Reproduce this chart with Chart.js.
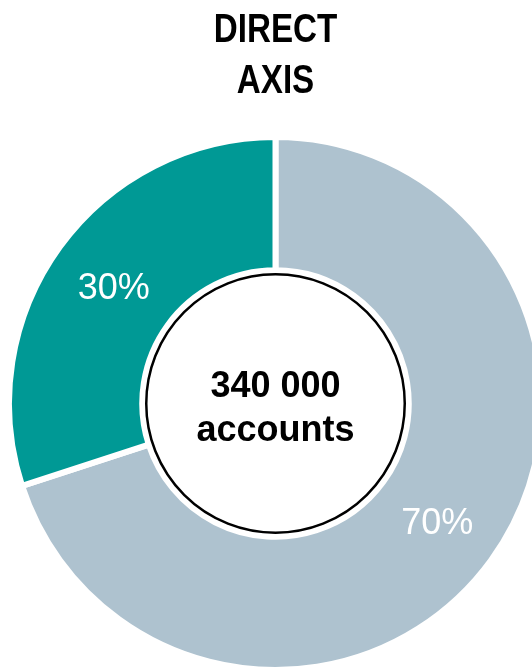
<!DOCTYPE html>
<html><head><meta charset="utf-8">
<script src="https://cdn.jsdelivr.net/npm/chart.js@4.4.0/dist/chart.umd.min.js"></script>
<style>
html,body{margin:0;padding:0;background:#fff;overflow:hidden;width:532px;height:669px;}
#wrap{position:absolute;left:0;top:0;width:551px;height:673px;}
</style></head><body>
<div id="wrap"><canvas id="c"></canvas></div>
<script>
const categories = ['Other', 'Direct Axis'];
const shares = [70, 30];
const sliceColors = ['#AEC2CF', '#009995'];
const sliceLabels = shares.map(v => v + '%');
const titleLines = ['DIRECT', 'AXIS'];
const centerLines = ['340 000', 'accounts'];

const FONT = '"Liberation Sans", Arial, sans-serif';

const decorPlugin = {
  id: 'decorPlugin',
  afterDatasetsDraw(chart) {
    const meta = chart.getDatasetMeta(0);
    const ctx = chart.ctx;
    const a0 = meta.data[0];
    const cx = a0.x, cy = a0.y;
    const inner = a0.innerRadius;
    ctx.save();
    // percent labels
    const lfs = 36;
    ctx.fillStyle = '#ffffff';
    ctx.font = 'normal ' + lfs + 'px ' + FONT;
    ctx.textAlign = 'center';
    ctx.textBaseline = 'alphabetic';
    meta.data.forEach((arc, i) => {
      const mid = (arc.startAngle + arc.endAngle) / 2;
      const r = (arc.innerRadius + arc.outerRadius) / 2;
      ctx.fillText(sliceLabels[i], cx + Math.cos(mid) * r, cy + Math.sin(mid) * r + lfs * 0.36);
    });
    // center circle
    const cr = inner - 4;
    ctx.beginPath();
    ctx.arc(cx, cy, cr, 0, Math.PI * 2);
    ctx.fillStyle = '#ffffff';
    ctx.fill();
    ctx.lineWidth = 2.5;
    ctx.strokeStyle = '#000000';
    ctx.stroke();
    // center text
    const fs = 36;
    ctx.fillStyle = '#000000';
    ctx.font = 'bold ' + fs + 'px ' + FONT;
    ctx.fillText(centerLines[0], cx, cy - fs * 0.17);
    ctx.fillText(centerLines[1], cx, cy + fs * 1.05);
    // title (condensed bold)
    const tfs = 41;
    ctx.font = 'bold ' + tfs + 'px ' + FONT;
    titleLines.forEach((line, i) => {
      ctx.save();
      ctx.translate(chart.width / 2, tfs * 1.02 + i * tfs * 1.24);
      ctx.scale(0.81, 1);
      ctx.fillText(line, 0, 0);
      ctx.restore();
    });
    ctx.restore();
  }
};

new Chart(document.getElementById('c'), {
  type: 'doughnut',
  data: {
    labels: categories,
    datasets: [{
      data: shares,
      backgroundColor: sliceColors,
      borderColor: '#ffffff',
      borderWidth: 6,
      hoverOffset: 0
    }]
  },
  options: {
    responsive: true,
    maintainAspectRatio: false,
    animation: false,
    devicePixelRatio: 1,
    cutout: '50%',
    rotation: 0,
    layout: { padding: { top: 134, left: 0, right: 0, bottom: 0 } },
    plugins: {
      legend: { display: false },
      tooltip: { enabled: false },
      title: { display: false }
    }
  },
  plugins: [decorPlugin]
});
</script>
</body></html>
